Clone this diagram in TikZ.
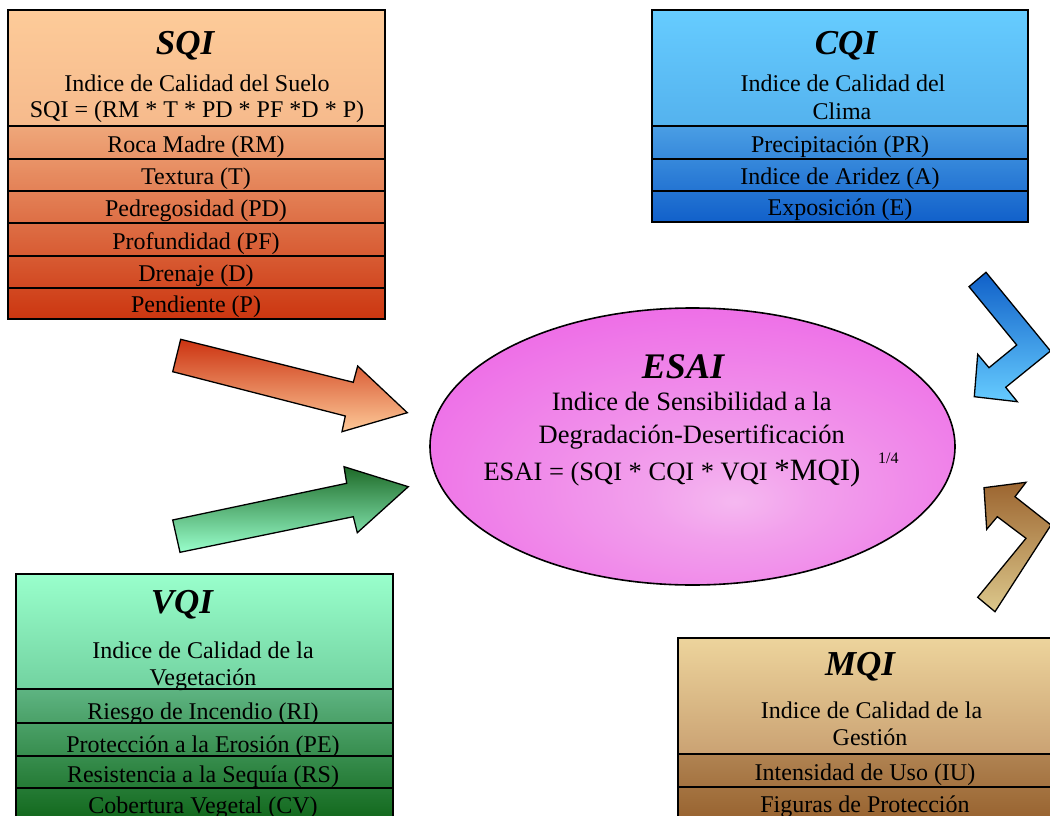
\documentclass[tikz,border=0pt]{standalone}
\usepackage{fontspec}
\setmainfont{Liberation Serif}
\definecolor{sqiA}{RGB}{253,203,153}
\definecolor{sqiB}{RGB}{246,186,140}
\definecolor{sqiC}{RGB}{239,167,122}
\definecolor{sqiD}{RGB}{204,54,16}
\definecolor{cqiA}{RGB}{102,204,255}
\definecolor{cqiB}{RGB}{84,178,238}
\definecolor{cqiC}{RGB}{74,158,228}
\definecolor{cqiD}{RGB}{17,96,202}
\definecolor{vqiA}{RGB}{153,255,204}
\definecolor{vqiB}{RGB}{114,210,160}
\definecolor{vqiC}{RGB}{94,180,130}
\definecolor{vqiD}{RGB}{12,98,20}
\definecolor{mqiA}{RGB}{237,212,156}
\definecolor{mqiB}{RGB}{202,162,115}
\definecolor{mqiC}{RGB}{176,131,82}
\definecolor{mqiD}{RGB}{148,94,42}
\definecolor{esaiIn}{RGB}{245,184,240}
\definecolor{esaiMid}{RGB}{242,160,236}
\definecolor{esaiOut}{RGB}{237,100,230}
\definecolor{arRedT}{RGB}{204,51,17}
\definecolor{arRedB}{RGB}{253,201,152}
\definecolor{arGrnT}{RGB}{30,106,40}
\definecolor{arGrnB}{RGB}{153,255,204}
\definecolor{arBluT}{RGB}{16,96,200}
\definecolor{arBluB}{RGB}{102,204,255}
\definecolor{arBrnT}{RGB}{156,101,48}
\definecolor{arBrnB}{RGB}{220,200,140}
\pgfdeclareradialshading{esaishade}{\pgfpoint{4bp}{-10bp}}{color(0bp)=(esaiIn); color(8bp)=(esaiMid); color(36bp)=(esaiOut); color(70bp)=(esaiOut)}
\begin{document}
\begin{tikzpicture}[x=1pt,y=-1pt,
  titletxt/.style={font=\fontsize{35}{40}\selectfont\bfseries\itshape, anchor=base, inner sep=0pt},
  bodytxt/.style={font=\fontsize{24}{26}\selectfont, anchor=base, inner sep=0pt},
  esaitxt/.style={font=\fontsize{26.5}{29}\selectfont, anchor=base, inner sep=0pt},
  boxline/.style={draw=black, line width=1.6pt},
  arrowshape/.style={draw=black, line width=1.3pt, line join=miter}]
\useasboundingbox (0,0) rectangle (1050,816);
\clip (0,0) rectangle (1050,816);
\fill[white] (0,0) rectangle (1050,816);

% ---------------- SQI ----------------
\shade[top color=sqiA, bottom color=sqiB] (8,10) rectangle (385,126);
\shade[top color=sqiC, bottom color=sqiD] (8,126) rectangle (385,319);
\node[titletxt] (sqiT) at (185,55) {SQI};
\node[bodytxt] (sqiL1) at (197,91.5) {Indice de Calidad del Suelo};
\node[bodytxt] (sqiL2) at (197,117.5) {SQI = (RM * T * PD * PF *D * P)};
\foreach \t/\b/\txt [count=\i] in {126/159/Roca Madre (RM),159/191/Textura (T),191/223/Pedregosidad (PD),223/256/Profundidad (PF),256/288/Drenaje (D),288/319/Pendiente (P)}{
  \begin{scope}
    \clip (8,\t) rectangle (385,\b);
    \node[bodytxt] (sqiR\i) at (196,\b-7) {\txt};
  \end{scope}
}
\foreach \y in {126,159,191,223,256,288}{\draw[boxline] (8,\y) -- (385,\y);}
\draw[boxline] (8,10) rectangle (385,319);

% ---------------- CQI ----------------
\shade[top color=cqiA, bottom color=cqiB] (652,10) rectangle (1028,126);
\shade[top color=cqiC, bottom color=cqiD] (652,126) rectangle (1028,222);
\node[titletxt] (cqiT) at (846,55) {CQI};
\node[bodytxt] (cqiL1) at (843,91.7) {Indice de Calidad del};
\node[bodytxt] (cqiL2) at (842,119.5) {Clima};
\foreach \t/\b/\txt [count=\i] in {126/159/Precipitación (PR),159/191/Indice de Aridez (A),191/222/Exposición (E)}{
  \begin{scope}
    \clip (652,\t) rectangle (1028,\b);
    \node[bodytxt] (cqiR\i) at (840,\b-7) {\txt};
  \end{scope}
}
\foreach \y in {126,159,191}{\draw[boxline] (652,\y) -- (1028,\y);}
\draw[boxline] (652,10) rectangle (1028,222);

% ---------------- VQI ----------------
\shade[top color=vqiA, bottom color=vqiB] (16,574) rectangle (393,689);
\shade[top color=vqiC, bottom color=vqiD] (16,689) rectangle (393,830);
\node[titletxt] (vqiT) at (182,613) {VQI};
\node[bodytxt] (vqiL1) at (203,658) {Indice de Calidad de la};
\node[bodytxt] (vqiL2) at (203,685) {Vegetación};
\foreach \t/\b/\bl/\txt [count=\i] in {689/723/719/Riesgo de Incendio (RI),723/756/752.5/Protección a la Erosión (PE),756/788/782.5/Resistencia a la Sequía (RS),788/830/813/Cobertura Vegetal (CV)}{
  \begin{scope}
    \clip (16,\t) rectangle (393,\b);
    \node[bodytxt] (vqiR\i) at (203,\bl) {\txt};
  \end{scope}
}
\foreach \y in {689,723,756,788}{\draw[boxline] (16,\y) -- (393,\y);}
\draw[boxline] (16,574) rectangle (393,830);

% ---------------- MQI ----------------
\shade[top color=mqiA, bottom color=mqiB] (678,638) rectangle (1060,754);
\shade[top color=mqiC, bottom color=mqiD] (678,754) rectangle (1060,830);
\node[titletxt] (mqiT) at (860,675) {MQI};
\node[bodytxt] (mqiL1) at (871.5,718) {Indice de Calidad de la};
\node[bodytxt] (mqiL2) at (870,745) {Gestión};
\foreach \t/\b/\bl/\txt [count=\i] in {754/787/780/Intensidad de Uso (IU),787/830/812.5/Figuras de Protección}{
  \begin{scope}
    \clip (678,\t) rectangle (1060,\b);
    \node[bodytxt] (mqiR\i) at (865,\bl) {\txt};
  \end{scope}
}
\foreach \y in {754,787}{\draw[boxline] (678,\y) -- (1060,\y);}
\draw[boxline] (678,638) rectangle (1060,830);

% ---------------- ESAI ----------------
\coordinate (esaiC) at (692.5,446.5);
\path[shading=esaishade, shade, draw=black, line width=1.6pt] (esaiC) ellipse [x radius=262.5pt, y radius=138.5pt];
\node[titletxt, font=\fontsize{36}{40}\selectfont\bfseries\itshape] (esaiT) at (683,378) {ESAI};
\node[esaitxt] (esaiL1) at (691.7,410.7) {Indice de Sensibilidad a la};
\node[esaitxt] (esaiL2) at (691.7,443.3) {Degradación-Desertificación};
\node[esaitxt, anchor=base west] (esaiL3) at (483.3,480) {ESAI = (SQI * CQI * VQI {\fontsize{31}{31}\selectfont *MQI)}};
\node[font=\fontsize{16}{18}\selectfont, anchor=base west, inner sep=0pt] (esaiExp) at (878,463) {1/4};

% ---------------- Arrows ----------------
\path[arrowshape, top color=arRedT, bottom color=arRedB]
  (180.7,339.3) -- (353.3,382.3) -- (357.7,366) -- (407.3,412.7) -- (342,431.7) -- (345.3,416) -- (172.7,371.7) -- cycle;
\path[arrowshape, top color=arGrnT, bottom color=arGrnB]
  (172.7,520) -- (346.7,483.3) -- (344,466.7) -- (408.3,486.7) -- (357.3,532.7) -- (353.3,516.7) -- (180,552.3) -- cycle;
\path[arrowshape, top color=arBluT, bottom color=arBluB]
  (969,286.7) -- (986,272.3) -- (1050.5,351) -- (1005.7,387.3) -- (1017.3,401.7) -- (974.3,396.7) -- (977.7,354.3) -- (989,367.7) -- (1016.7,345) -- cycle;
\path[arrowshape, top color=arBrnT, bottom color=arBrnB]
  (984,487.7) -- (1026,482.3) -- (1015,496.7) -- (1051,525) -- (995,611.7) -- (977.7,597.3) -- (1026,538.3) -- (997.3,516.7) -- (986.7,529.3) -- cycle;
\end{tikzpicture}
\end{document}
